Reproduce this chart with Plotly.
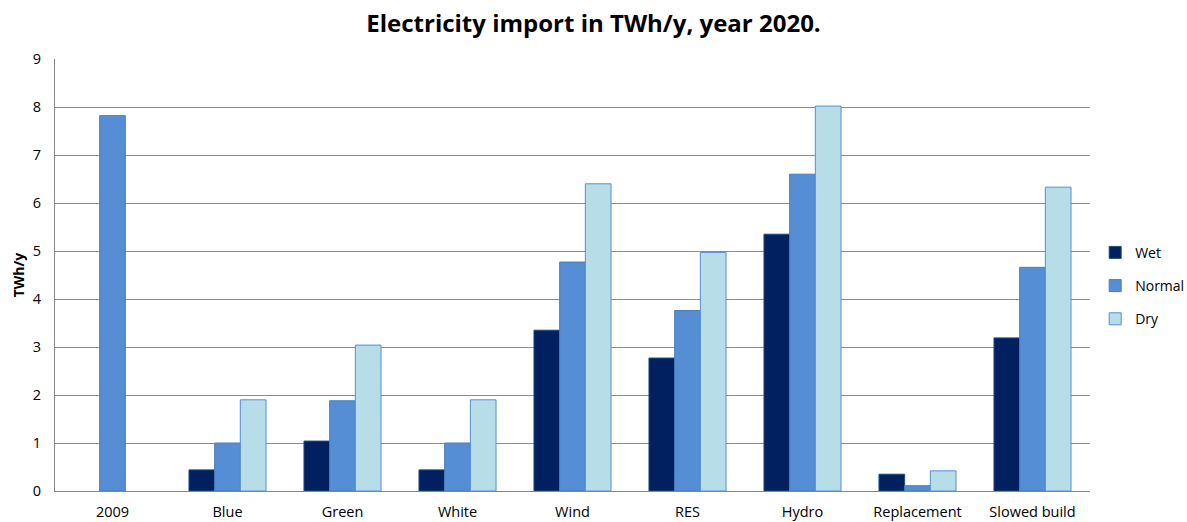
import plotly.graph_objects as go

categories = ["2009", "Blue", "Green", "White", "Wind", "RES", "Hydro", "Replacement", "Slowed build"]
wet = [None, 0.44, 1.04, 0.44, 3.35, 2.77, 5.35, 0.35, 3.19]
normal = [7.82, 1.00, 1.88, 1.00, 4.77, 3.76, 6.60, 0.11, 4.66]
dry = [None, 1.90, 3.04, 1.90, 6.40, 4.97, 8.02, 0.42, 6.33]
y_ticks = [0, 1, 2, 3, 4, 5, 6, 7, 8, 9]

series = [
    ("Wet", wet, "#002060", "#1F4E79"),
    ("Normal", normal, "#558ED5", "#4A7EBB"),
    ("Dry", dry, "#B7DEE8", "#558ED5"),
]

fig = go.Figure()
for name, vals, fill, edge in series:
    fig.add_trace(go.Bar(
        x=categories, y=vals, name=name, legendgroup=name,
        marker=dict(color=fill, line=dict(color=edge, width=1)),
    ))

font_family = "'Open Sans', 'Liberation Sans', sans-serif"

fig.update_layout(
    width=1187, height=522,
    margin=dict(l=55, r=97, t=59, b=31, autoexpand=False),
    paper_bgcolor="white", plot_bgcolor="white",
    barmode="group", bargap=0.33, bargroupgap=0,
    font=dict(family=font_family, size=14, color="#000000"),
    title=dict(
        text="<b>Electricity import in TWh/y, year 2020.</b>",
        x=0.5, xanchor="center", y=0.955, yanchor="middle",
        font=dict(family=font_family, size=24, color="#000000"),
    ),
    legend=dict(
        x=1.005, xanchor="left", y=0.475, yanchor="middle",
        font=dict(size=14), tracegroupgap=12, itemwidth=30,
        bgcolor="rgba(0,0,0,0)",
    ),
    xaxis=dict(
        showline=True, linecolor="#868686", linewidth=1,
        ticks="", tickfont=dict(size=14.5), ticklabelstandoff=8,
        showgrid=False,
    ),
    yaxis=dict(
        range=[0, 9], tickvals=y_ticks, ticktext=[str(v) for v in y_ticks],
        showline=True, linecolor="#868686", linewidth=1,
        showgrid=True, gridcolor="#8C8C8C", gridwidth=1,
        ticks="", ticklen=0, tickfont=dict(size=14.5), ticklabelstandoff=10,
        zeroline=False,
        title=dict(text="<b>TWh/y</b>", font=dict(size=14), standoff=4),
    ),
)

fig.write_html("out.html")
